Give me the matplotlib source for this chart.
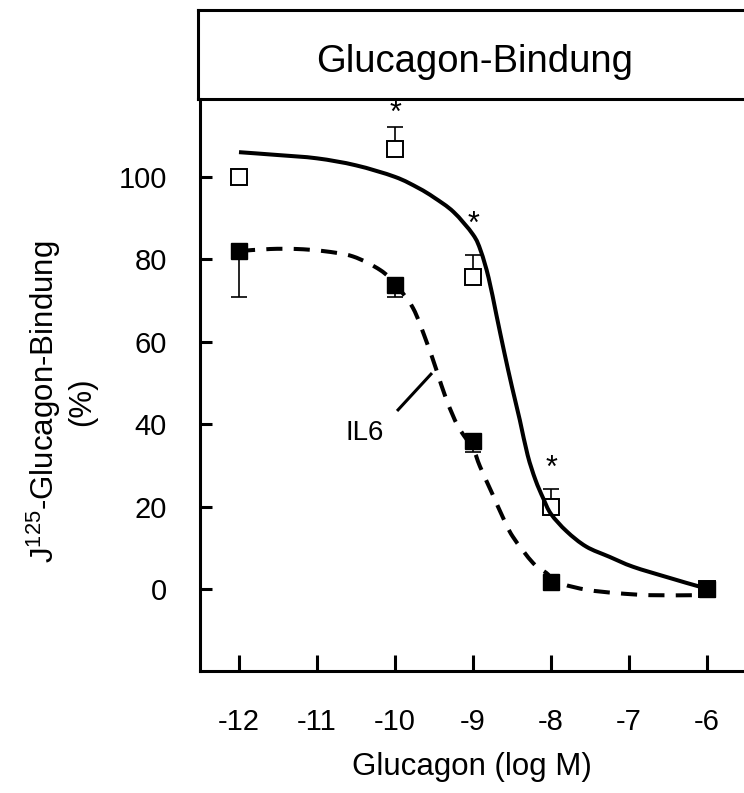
import matplotlib
matplotlib.use('Agg')
import matplotlib.pyplot as plt
from matplotlib.path import Path
from matplotlib.patches import PathPatch

plt.rcParams['font.family'] = ['Liberation Sans', 'DejaVu Sans']
plt.rcParams['mathtext.default'] = 'regular'

# ---- data ----
conc = [-12, -10, -9, -8, -6]
control = [99.9, 106.7, 75.8, 19.8, 0.0]
control_err_up = [0, 5.4, 5.3, 4.4, 0]
il6 = [82.0, 73.8, 35.8, 1.8, 0.0]
il6_err_down = [11.1, 2.9, 2.5, 0, 0]

star_x = [-10, -9, -8]
star_y = [115.3, 88.3, 29.2]

fit_control_x = [-12.0, -11.5, -11.0, -10.5, -10.0, -9.7, -9.5, -9.25, -9.0, -8.9, -8.8,
                 -8.7, -8.6, -8.5, -8.4, -8.3, -8.2, -8.1, -8.0, -7.8, -7.55, -7.25,
                 -6.95, -6.5, -6.1, -6.0]
fit_control_y = [106, 105.3, 104.5, 102.8, 100, 97.3, 95, 91.5, 86, 82, 75.5,
                 66.5, 57.5, 49, 41, 32.5, 26.5, 22, 18.2, 14, 10.3, 7.8,
                 5.4, 2.8, 0.6, 0.2]

fit_il6_x = [-12.0, -11.6, -11.26, -10.92, -10.54, -10.19, -10.0, -9.77, -9.59, -9.47,
             -9.34, -9.19, -9.0, -8.91, -8.75, -8.62, -8.49, -8.23, -8.06, -8.0, -7.85,
             -7.54, -7.16, -6.73, -6.13, -6.0]
fit_il6_y = [82.0, 82.5, 82.5, 82.0, 80.7, 77.4, 74.0, 68.2, 59.7, 53.2,
             45.9, 39.4, 34.0, 29.7, 23.0, 17.5, 12.7, 6.3, 3.9, 2.8, 1.2,
             -0.2, -1.0, -1.5, -1.5, -1.5]

il6_label = 'IL6'
il6_label_xy = (-10.385, 37.9)
il6_leader_x = [-9.974, -9.526]
il6_leader_y = [43.2, 52.4]

xticks = [-12, -11, -10, -9, -8, -7, -6]
yticks = [0, 20, 40, 60, 80, 100]

title = 'Glucagon-Bindung'
xlabel = 'Glucagon (log M)'
ylabel = 'J$^{125}$-Glucagon-Bindung\n(%)'

# ---- figure ----
W, H = 744, 793
fig = plt.figure(figsize=(W / 100, H / 100), dpi=100)


def px_rect(x0, y0, x1, y1):
    return [x0 / W, 1 - y1 / H, (x1 - x0) / W, (y1 - y0) / H]


def smooth_path(xs, ys):
    """Smoothed line through the given points (Catmull-Rom as cubic Bezier)."""
    n = len(xs)
    verts = [(xs[0], ys[0])]
    codes = [Path.MOVETO]
    for i in range(n - 1):
        x0, y0 = (xs[i - 1], ys[i - 1]) if i > 0 else (xs[i], ys[i])
        x1, y1 = xs[i], ys[i]
        x2, y2 = xs[i + 1], ys[i + 1]
        x3, y3 = (xs[i + 2], ys[i + 2]) if i + 2 < n else (x2, y2)
        verts += [(x1 + (x2 - x0) / 6, y1 + (y2 - y0) / 6),
                  (x2 - (x3 - x1) / 6, y2 - (y3 - y1) / 6),
                  (x2, y2)]
        codes += [Path.CURVE4] * 3
    return Path(verts, codes)


# title box (drawn first, transparent background)
tax = fig.add_axes(px_rect(198, 10, 760, 99))
tax.patch.set_alpha(0)
tax.set_xticks([])
tax.set_yticks([])
tax.spines['right'].set_visible(False)

ax = fig.add_axes(px_rect(200, 99, 744, 671))
ax.patch.set_alpha(0)
ax.set_xlim(-12.5, -5.526)
ax.set_ylim(-19.9, 118.9)

lw_sp = 2.2
for s in ['top', 'left', 'bottom']:
    tax.spines[s].set_linewidth(lw_sp)
tax.text((475 - 198) / (760 - 198), (99 - 72) / 89, title, transform=tax.transAxes,
         ha='center', va='baseline', fontsize=27.5)

for s in ['top', 'right']:
    ax.spines[s].set_visible(False)
for s in ['left', 'bottom']:
    ax.spines[s].set_linewidth(lw_sp)

ax.set_xticks(xticks)
ax.set_xticklabels([str(v) for v in xticks])
ax.set_yticks(yticks)
ax.set_yticklabels([str(v) for v in yticks])
ax.tick_params(axis='x', direction='in', length=11.5, width=lw_sp, pad=27, labelsize=21)
ax.tick_params(axis='y', direction='in', length=8.6, width=lw_sp, pad=24, labelsize=21)

# error bars (only non-zero)
ci = [i for i, e in enumerate(control_err_up) if e > 0]
ax.errorbar([conc[i] for i in ci], [control[i] for i in ci],
            yerr=[[0] * len(ci), [control_err_up[i] for i in ci]],
            fmt='none', ecolor='black', elinewidth=1.2, capsize=5.8, capthick=1.2, zorder=1)
ii = [i for i, e in enumerate(il6_err_down) if e > 0]
ax.errorbar([conc[i] for i in ii], [il6[i] for i in ii],
            yerr=[[il6_err_down[i] for i in ii], [0] * len(ii)],
            fmt='none', ecolor='black', elinewidth=1.2, capsize=5.8, capthick=1.2, zorder=1)

ax.plot(conc, control, linestyle='none', marker='s', markersize=12,
        markerfacecolor='white', markeredgecolor='black', markeredgewidth=1.4, zorder=2)
ax.add_patch(PathPatch(smooth_path(fit_control_x, fit_control_y), fill=False,
                       edgecolor='black', lw=2.9, capstyle='butt', zorder=3))
ax.add_patch(PathPatch(smooth_path(fit_il6_x, fit_il6_y), fill=False,
                       edgecolor='black', lw=2.9, linestyle=(0, (4, 2.8)), zorder=3))
ax.plot(conc, il6, linestyle='none', marker='s', markersize=12,
        markerfacecolor='black', markeredgecolor='black', zorder=4)

for sx, sy in zip(star_x, star_y):
    ax.text(sx, sy, '*', ha='center', va='center', fontsize=22, zorder=5, clip_on=False)

ax.text(il6_label_xy[0], il6_label_xy[1], il6_label, ha='center', va='center', fontsize=20)
ax.plot(il6_leader_x, il6_leader_y, color='black', lw=2.2, solid_capstyle='butt')

ax.set_xlabel(xlabel, fontsize=22.5, labelpad=11)
ax.set_ylabel(ylabel, fontsize=22.5)
ax.yaxis.set_label_coords(-0.189, 0.47)

fig.savefig('out.png', dpi=100)
